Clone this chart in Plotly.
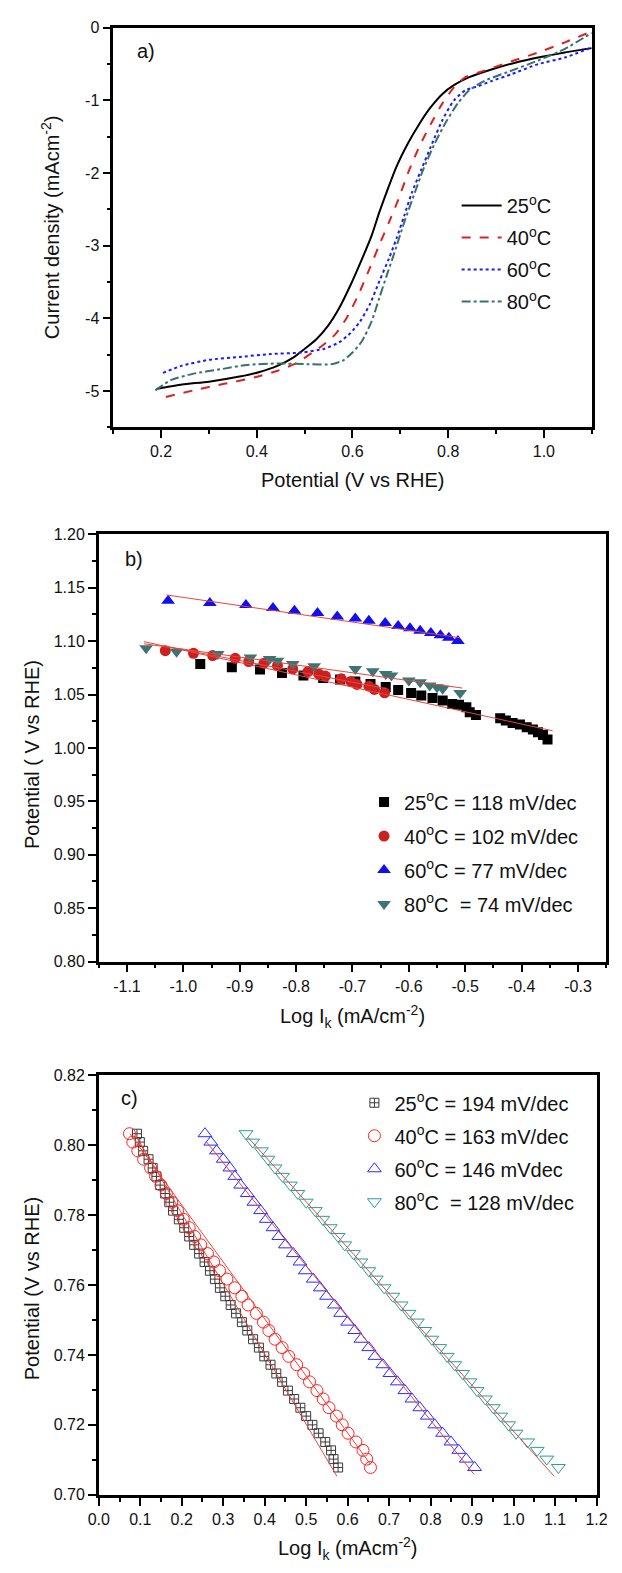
import plotly.graph_objects as go

W, H = 622, 1573
FONT = "Arial, Liberation Sans, sans-serif"

# ---------------- Panel a data (LSV curves) ----------------
a_x25 = [0.19, 0.244, 0.30, 0.364, 0.404, 0.444, 0.476, 0.50, 0.524, 0.548, 0.572, 0.596, 0.62, 0.64, 0.656, 0.672, 0.692, 0.716, 0.74, 0.764, 0.788, 0.812, 0.844, 0.892, 0.94, 0.996, 1.044, 1.10]
a_y25 = [-4.97, -4.91, -4.87, -4.80, -4.74, -4.65, -4.54, -4.42, -4.29, -4.11, -3.86, -3.54, -3.18, -2.86, -2.54, -2.25, -1.91, -1.59, -1.32, -1.09, -0.91, -0.79, -0.68, -0.57, -0.48, -0.40, -0.34, -0.28]
a_x40 = [0.21, 0.268, 0.332, 0.396, 0.444, 0.484, 0.516, 0.54, 0.564, 0.588, 0.612, 0.636, 0.656, 0.676, 0.696, 0.716, 0.74, 0.764, 0.788, 0.812, 0.836, 0.876, 0.924, 0.988, 1.044, 1.10]
a_y40 = [-5.08, -4.99, -4.90, -4.81, -4.72, -4.61, -4.47, -4.36, -4.22, -3.99, -3.68, -3.31, -2.99, -2.68, -2.36, -2.00, -1.63, -1.32, -1.04, -0.82, -0.68, -0.59, -0.48, -0.34, -0.20, -0.05]
a_x60 = [0.204, 0.244, 0.30, 0.364, 0.428, 0.492, 0.54, 0.572, 0.596, 0.616, 0.636, 0.656, 0.676, 0.692, 0.708, 0.724, 0.744, 0.764, 0.788, 0.812, 0.836, 0.86, 0.892, 0.932, 0.988, 1.044, 1.10]
a_y60 = [-4.75, -4.65, -4.57, -4.53, -4.49, -4.47, -4.42, -4.33, -4.20, -4.04, -3.81, -3.49, -3.18, -2.90, -2.59, -2.27, -1.95, -1.63, -1.27, -1.00, -0.86, -0.81, -0.73, -0.64, -0.50, -0.41, -0.27]
a_x80 = [0.188, 0.22, 0.268, 0.324, 0.38, 0.444, 0.508, 0.556, 0.58, 0.60, 0.62, 0.64, 0.656, 0.672, 0.688, 0.708, 0.728, 0.748, 0.772, 0.796, 0.82, 0.844, 0.876, 0.924, 0.988, 1.044, 1.10]
a_y80 = [-4.99, -4.85, -4.76, -4.70, -4.64, -4.62, -4.63, -4.63, -4.58, -4.47, -4.31, -4.04, -3.72, -3.40, -3.09, -2.68, -2.31, -1.95, -1.59, -1.29, -1.04, -0.86, -0.73, -0.61, -0.45, -0.29, -0.07]

# ---------------- Panel b data (Tafel, high potential) ----------------
b_x25 = [-0.970, -0.914, -0.864, -0.825, -0.787, -0.752, -0.722, -0.695, -0.668, -0.641, -0.619, -0.596, -0.578, -0.558, -0.540, -0.523, -0.511, -0.498, -0.492, -0.481, -0.438, -0.428, -0.416, -0.403, -0.391, -0.380, -0.371, -0.362, -0.354]
b_y25 = [1.0786, 1.0755, 1.0733, 1.0702, 1.0677, 1.0655, 1.0640, 1.0621, 1.0599, 1.0571, 1.0543, 1.0515, 1.0490, 1.0468, 1.0443, 1.0412, 1.0403, 1.0381, 1.0334, 1.0309, 1.0278, 1.0256, 1.0234, 1.0219, 1.0194, 1.0172, 1.0147, 1.0122, 1.0078]
b_x40 = [-1.032, -0.982, -0.948, -0.908, -0.884, -0.857, -0.833, -0.806, -0.779, -0.760, -0.748, -0.720, -0.703, -0.692, -0.671, -0.661, -0.643]
b_y40 = [1.0910, 1.0886, 1.0864, 1.0839, 1.0809, 1.0793, 1.0771, 1.0740, 1.0715, 1.0693, 1.0672, 1.0647, 1.0622, 1.0594, 1.0578, 1.0547, 1.0516]
b_x60 = [-1.027, -0.953, -0.889, -0.841, -0.803, -0.762, -0.727, -0.695, -0.671, -0.642, -0.619, -0.598, -0.580, -0.561, -0.544, -0.529, -0.513]
b_y60 = [1.1377, 1.1356, 1.1337, 1.1309, 1.1284, 1.1262, 1.1231, 1.1212, 1.1191, 1.1169, 1.1141, 1.1119, 1.1097, 1.1075, 1.1054, 1.1032, 1.1001]
b_x80 = [-1.066, -1.012, -0.939, -0.881, -0.847, -0.833, -0.806, -0.768, -0.695, -0.664, -0.641, -0.631, -0.600, -0.580, -0.563, -0.550, -0.540, -0.509]
b_y80 = [1.0932, 1.0901, 1.0879, 1.0847, 1.0832, 1.0817, 1.0786, 1.0764, 1.0739, 1.0717, 1.0692, 1.0677, 1.0630, 1.0615, 1.0584, 1.0568, 1.0553, 1.0513]
# fitted lines (end points)
b_fit_x25 = [-1.07, -0.345]; b_fit_y25 = [1.0995, 1.0160]
b_fit_x40 = [-1.035, -0.64]; b_fit_y40 = [1.0955, 1.0555]
b_fit_x60 = [-1.03, -0.51];  b_fit_y60 = [1.1432, 1.1032]
b_fit_x80 = [-1.07, -0.505]; b_fit_y80 = [1.0975, 1.0560]

# ---------------- Panel c data (Tafel, low potential) ----------------
c_pot = [0.8033, 0.8009, 0.7984, 0.7960, 0.7935, 0.7911, 0.7886, 0.7862, 0.7837, 0.7813,
         0.7788, 0.7764, 0.7739, 0.7715, 0.7690, 0.7666, 0.7641, 0.7617, 0.7592, 0.7568,
         0.7543, 0.7519, 0.7494, 0.7470, 0.7445, 0.7421, 0.7396, 0.7372, 0.7347, 0.7323,
         0.7298, 0.7274, 0.7249, 0.7225, 0.7200, 0.7176, 0.7151, 0.7127, 0.7102, 0.7078]
c_x25 = [0.092, 0.099, 0.107, 0.120, 0.130, 0.139, 0.148, 0.160, 0.170, 0.179,
         0.193, 0.206, 0.218, 0.230, 0.242, 0.255, 0.268, 0.280, 0.292, 0.305,
         0.318, 0.331, 0.345, 0.358, 0.372, 0.386, 0.399, 0.414, 0.428, 0.442,
         0.456, 0.471, 0.486, 0.500, 0.515, 0.530, 0.546, 0.560, 0.566, 0.577]
c_x40 = [0.074, 0.082, 0.094, 0.108, 0.125, 0.137, 0.150, 0.163, 0.176, 0.190,
         0.204, 0.218, 0.231, 0.246, 0.262, 0.277, 0.291, 0.309, 0.328, 0.345,
         0.360, 0.380, 0.397, 0.410, 0.425, 0.442, 0.458, 0.477, 0.494, 0.508,
         0.526, 0.541, 0.555, 0.573, 0.587, 0.601, 0.620, 0.637, 0.646, 0.655]
c_x60 = [0.256, 0.270, 0.284, 0.300, 0.316, 0.328, 0.342, 0.358, 0.374, 0.390,
         0.404, 0.420, 0.434, 0.450, 0.469, 0.485, 0.498, 0.517, 0.534, 0.549,
         0.568, 0.583, 0.600, 0.617, 0.632, 0.651, 0.666, 0.685, 0.702, 0.720,
         0.738, 0.755, 0.774, 0.792, 0.810, 0.829, 0.849, 0.868, 0.886, 0.906]
c_x80 = [0.355, 0.371, 0.392, 0.408, 0.425, 0.443, 0.462, 0.480, 0.500, 0.522,
         0.540, 0.558, 0.577, 0.593, 0.614, 0.632, 0.651, 0.669, 0.688, 0.709,
         0.729, 0.748, 0.768, 0.786, 0.803, 0.822, 0.840, 0.858, 0.877, 0.895,
         0.912, 0.932, 0.951, 0.969, 0.988, 1.006, 1.034, 1.057, 1.080, 1.108]
c_fit_x25 = [0.092, 0.574]; c_fit_y25 = [0.8022, 0.7053]
c_fit_x40 = [0.075, 0.655]; c_fit_y40 = [0.8033, 0.7087]
c_fit_x60 = [0.258, 0.905]; c_fit_y60 = [0.8012, 0.7058]
c_fit_x80 = [0.360, 1.098]; c_fit_y80 = [0.8022, 0.7053]

# ---------------- labels ----------------
a_names = ["25<sup>o</sup>C", "40<sup>o</sup>C", "60<sup>o</sup>C", "80<sup>o</sup>C"]
b_names = ["25<sup>o</sup>C = 118 mV/dec", "40<sup>o</sup>C = 102 mV/dec",
           "60<sup>o</sup>C = 77 mV/dec", "80<sup>o</sup>C  = 74 mV/dec"]
c_names = ["25<sup>o</sup>C = 194 mV/dec", "40<sup>o</sup>C = 163 mV/dec",
           "60<sup>o</sup>C = 146 mVdec", "80<sup>o</sup>C  = 128 mV/dec"]

a_xticks = [0.2, 0.4, 0.6, 0.8, 1.0]; a_xtext = ["0.2", "0.4", "0.6", "0.8", "1.0"]
a_yticks = [0, -1, -2, -3, -4, -5]; a_ytext = ["0", "-1", "-2", "-3", "-4", "-5"]
b_xticks = [-1.1, -1.0, -0.9, -0.8, -0.7, -0.6, -0.5, -0.4, -0.3]
b_xtext = ["-1.1", "-1.0", "-0.9", "-0.8", "-0.7", "-0.6", "-0.5", "-0.4", "-0.3"]
b_yticks = [0.80, 0.85, 0.90, 0.95, 1.00, 1.05, 1.10, 1.15, 1.20]
b_ytext = ["0.80", "0.85", "0.90", "0.95", "1.00", "1.05", "1.10", "1.15", "1.20"]
c_xticks = [0.0, 0.1, 0.2, 0.3, 0.4, 0.5, 0.6, 0.7, 0.8, 0.9, 1.0, 1.1, 1.2]
c_xtext = ["0.0", "0.1", "0.2", "0.3", "0.4", "0.5", "0.6", "0.7", "0.8", "0.9", "1.0", "1.1", "1.2"]
c_yticks = [0.70, 0.72, 0.74, 0.76, 0.78, 0.80, 0.82]
c_ytext = ["0.70", "0.72", "0.74", "0.76", "0.78", "0.80", "0.82"]

RED_FIT = "#e8453c"

fig = go.Figure()

# Panel a
a_cols = ["#000000", "#e02020", "#1a1aff", "#3a7070"]
a_dash = ["solid", "dash", "dot", "dashdot"]
for xs, ys, nm, col, ds in zip([a_x25, a_x40, a_x60, a_x80], [a_y25, a_y40, a_y60, a_y80],
                               a_names, a_cols, a_dash):
    fig.add_trace(go.Scatter(x=xs, y=ys, mode="lines", name=nm,
                             line=dict(color=col, width=2, dash=ds, shape="spline", smoothing=0.6),
                             xaxis="x", yaxis="y", legend="legend", legendgroup="a" + nm))

# Panel b
b_cols = ["#000000", "#cc1f1f", "#1010ee", "#3d7575"]
b_syms = ["square", "circle", "triangle-up", "triangle-down"]
b_sizes = [10, 11, 12, 12]
for xs, ys, nm, col, sy, sz in zip([b_x25, b_x40, b_x60, b_x80], [b_y25, b_y40, b_y60, b_y80],
                                   b_names, b_cols, b_syms, b_sizes):
    fig.add_trace(go.Scatter(x=xs, y=ys, mode="markers", name=nm,
                             marker=dict(color=col, symbol=sy, size=sz, line=dict(width=0)),
                             xaxis="x2", yaxis="y2", legend="legend2", legendgroup="b" + nm))
for xs, ys in zip([b_fit_x25, b_fit_x40, b_fit_x60, b_fit_x80],
                  [b_fit_y25, b_fit_y40, b_fit_y60, b_fit_y80]):
    fig.add_trace(go.Scatter(x=xs, y=ys, mode="lines", showlegend=False,
                             line=dict(color=RED_FIT, width=1), xaxis="x2", yaxis="y2"))

# Panel c
c_cols = ["#3a3a3a", "#ff2222", "#2a2aff", "#2a9d96"]
c_syms = ["square-cross-open", "circle-open", "triangle-up-open", "triangle-down-open"]
c_sizes = [9, 12, 12, 12]
for xs, nm, col, sy, sz in zip([c_x25, c_x40, c_x60, c_x80], c_names, c_cols, c_syms, c_sizes):
    fig.add_trace(go.Scatter(x=xs, y=c_pot, mode="markers", name=nm,
                             marker=dict(color=col, symbol=sy, size=sz, line=dict(width=1, color=col)),
                             xaxis="x3", yaxis="y3", legend="legend3", legendgroup="c" + nm))
for xs, ys in zip([c_fit_x25, c_fit_x40, c_fit_x60, c_fit_x80],
                  [c_fit_y25, c_fit_y40, c_fit_y60, c_fit_y80]):
    fig.add_trace(go.Scatter(x=xs, y=ys, mode="lines", showlegend=False,
                             line=dict(color=RED_FIT, width=1), xaxis="x3", yaxis="y3"))


def px_x(p):
    return p / W


def px_y(p):
    return 1 - p / H


def axis(dom, rng, tv, tt, minor_dtick, anchor):
    return dict(domain=dom, range=rng, tickvals=tv, ticktext=tt, anchor=anchor,
                showline=True, linecolor="black", linewidth=2.5, mirror=True,
                ticks="outside", ticklen=8, tickwidth=2, tickcolor="black",
                showgrid=False, zeroline=False,
                tickfont=dict(family=FONT, size=16, color="#111"),
                minor=dict(ticks="outside", ticklen=4, tickwidth=2, tickcolor="black",
                           dtick=minor_dtick, tick0=0, showgrid=False))


layout = dict(
    width=W, height=H, margin=dict(l=0, r=0, t=0, b=0),
    paper_bgcolor="white", plot_bgcolor="white",
    xaxis=axis([px_x(106), px_x(602)], [0.1, 1.1], a_xticks, a_xtext, 0.1, "y"),
    yaxis=axis([px_y(424), px_y(20)], [-5.5, 0], a_yticks, a_ytext, 0.5, "x"),
    xaxis2=axis([px_x(91), px_x(617)], [-1.15, -0.25], b_xticks, b_xtext, 0.05, "y2"),
    yaxis2=axis([px_y(964), px_y(532)], [0.80, 1.20], b_yticks, b_ytext, 0.025, "x2"),
    xaxis3=axis([px_x(91), px_x(607)], [0.0, 1.2], c_xticks, c_xtext, 0.05, "y3"),
    yaxis3=axis([px_y(1503), px_y(1079)], [0.70, 0.82], c_yticks, c_ytext, 0.01, "x3"),
    legend=dict(x=px_x(462), y=px_y(180), xanchor="left", yanchor="top",
                font=dict(family=FONT, size=20, color="#111"), bgcolor="rgba(0,0,0,0)",
                tracegroupgap=3, itemwidth=40),
    legend2=dict(x=px_x(366), y=px_y(783), xanchor="left", yanchor="top",
                 font=dict(family=FONT, size=20, color="#111"), bgcolor="rgba(0,0,0,0)",
                 tracegroupgap=5),
    legend3=dict(x=px_x(356), y=px_y(1087), xanchor="left", yanchor="top",
                 font=dict(family=FONT, size=20, color="#111"), bgcolor="rgba(0,0,0,0)",
                 tracegroupgap=4),
)
fig.update_layout(**layout)

ann_font = dict(family=FONT, size=20, color="#111")
annotations = [
    dict(text="a)", x=px_x(140), y=px_y(43)),
    dict(text="b)", x=px_x(128), y=px_y(557)),
    dict(text="c)", x=px_x(123), y=px_y(1102)),
    dict(text="Potential (V vs RHE)", x=px_x(354), y=px_y(477)),
    dict(text="Current density (mAcm<sup>-2</sup>)", x=px_x(41), y=px_y(222), textangle=-90),
    dict(text="Log I<sub>k</sub> (mA/cm<sup>-2</sup>)", x=px_x(354), y=px_y(1020)),
    dict(text="Potential ( V vs RHE)", x=px_x(22), y=px_y(755), textangle=-90),
    dict(text="Log I<sub>k</sub> (mAcm<sup>-2</sup>)", x=px_x(349), y=px_y(1557)),
    dict(text="Potential (V vs RHE)", x=px_x(22), y=px_y(1295), textangle=-90),
]
for a in annotations:
    fig.add_annotation(xref="paper", yref="paper", showarrow=False,
                       xanchor="center", yanchor="middle", font=ann_font, **a)

fig.write_html("out.html")
